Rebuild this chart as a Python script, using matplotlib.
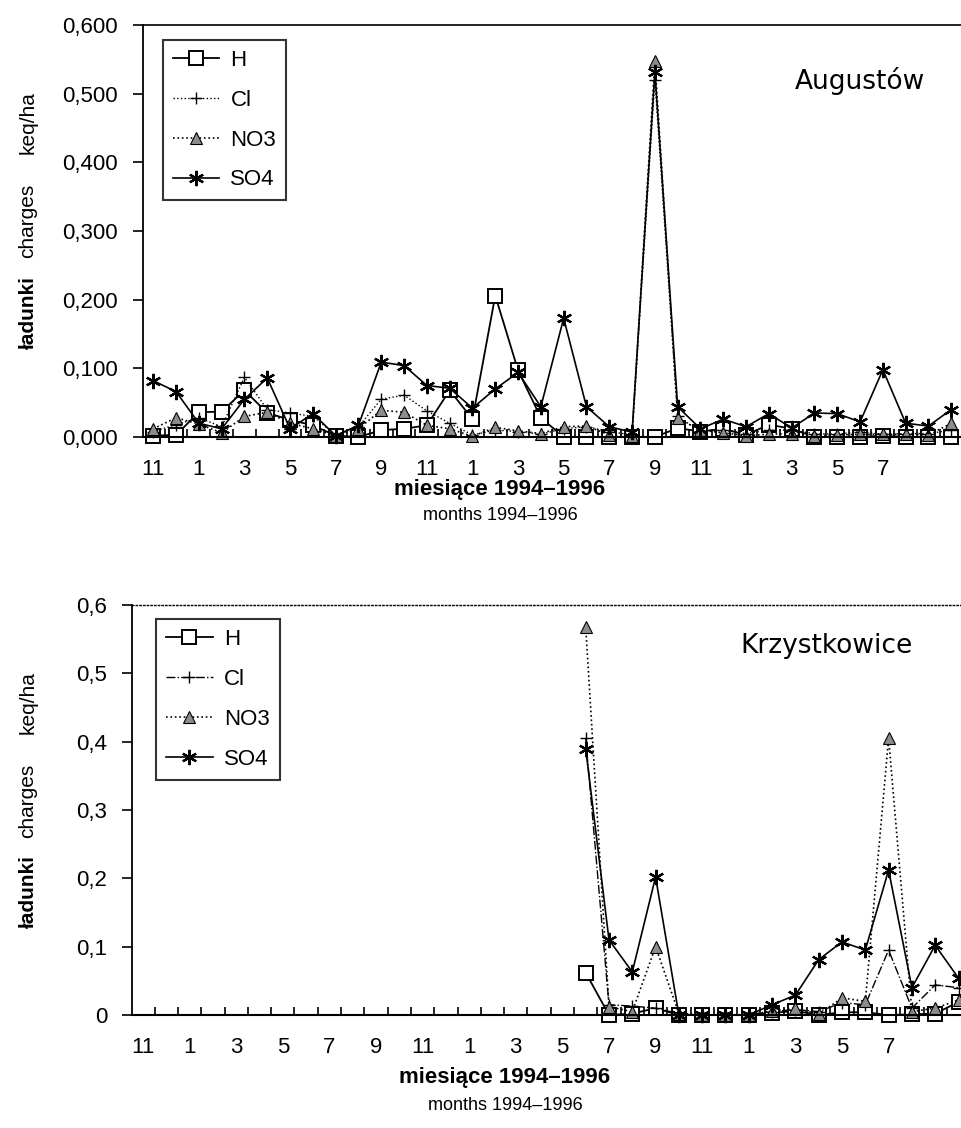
import numpy as np
import matplotlib.pyplot as plt
from matplotlib.ticker import FixedLocator, FuncFormatter

plt.rcParams['font.family'] = ['Liberation Sans', 'DejaVu Sans']

# miesiące XI 1994 - X 1997
months = [11, 12, 1, 2, 3, 4, 5, 6, 7, 8, 9, 10,
          11, 12, 1, 2, 3, 4, 5, 6, 7, 8, 9, 10,
          11, 12, 1, 2, 3, 4, 5, 6, 7, 8, 9, 10]

# Augustów, keq/ha
aug_H = [0.002, 0.003, 0.036, 0.037, 0.068, 0.035, 0.025, 0.017, 0.002, 0.000,
         0.010, 0.012, 0.017, 0.068, 0.026, 0.206, 0.097, 0.028, 0.000, 0.000,
         0.000, 0.000, 0.000, 0.013, 0.008, 0.012, 0.003, 0.018, 0.012, 0.000,
         0.000, 0.000, 0.002, 0.000, 0.000, 0.000]
aug_Cl = [0.008, 0.018, 0.028, 0.015, 0.087, 0.040, 0.035, 0.030, 0.003, 0.015,
          0.055, 0.061, 0.038, 0.020, 0.003, 0.010, 0.008, 0.004, 0.012, 0.015,
          0.008, 0.003, 0.520, 0.030, 0.008, 0.010, 0.005, 0.010, 0.010, 0.005,
          0.004, 0.008, 0.004, 0.005, 0.005, 0.010]
aug_NO3 = [0.012, 0.028, 0.019, 0.006, 0.030, 0.036, 0.020, 0.012, 0.002, 0.012,
           0.039, 0.036, 0.017, 0.012, 0.001, 0.014, 0.009, 0.005, 0.015, 0.016,
           0.003, 0.001, 0.548, 0.027, 0.010, 0.006, 0.002, 0.004, 0.005, 0.002,
           0.003, 0.004, 0.004, 0.004, 0.003, 0.020]
aug_SO4 = [0.082, 0.066, 0.020, 0.012, 0.055, 0.086, 0.012, 0.034, 0.002, 0.017,
           0.109, 0.104, 0.075, 0.071, 0.042, 0.070, 0.094, 0.044, 0.173, 0.044,
           0.015, 0.007, 0.532, 0.044, 0.012, 0.026, 0.015, 0.034, 0.013, 0.035,
           0.034, 0.022, 0.098, 0.020, 0.016, 0.040]

# Krzystkowice - pomiary od VI 1996
kr_start = 19
kr_H = [0.062, 0.000, 0.002, 0.010, 0.000, 0.000, 0.000, 0.000, 0.003, 0.006,
        0.000, 0.004, 0.004, 0.000, 0.001, 0.002, 0.019]
kr_Cl = [0.405, 0.015, 0.013, 0.010, 0.002, 0.000, 0.000, 0.000, 0.005, 0.008,
         0.005, 0.018, 0.015, 0.095, 0.010, 0.044, 0.040]
kr_NO3 = [0.568, 0.012, 0.005, 0.100, 0.002, 0.000, 0.000, 0.000, 0.006, 0.010,
          0.001, 0.025, 0.020, 0.405, 0.005, 0.010, 0.022]
kr_SO4 = [0.390, 0.110, 0.063, 0.202, 0.000, 0.000, 0.000, 0.000, 0.015, 0.029,
          0.081, 0.107, 0.095, 0.212, 0.040, 0.102, 0.054]

FS = 16
asterisk = (6, 2, 0)
n_opis = 33  # podpisy osi X do VII 1997


def rysuj(ax, x, H, Cl, NO3, SO4, cl_style):
    kw = dict(color='black', clip_on=False)
    ax.plot(x, H, '-', lw=1.3, marker='s', ms=10, mfc='white', mec='black',
            mew=1.4, label='H', **kw)
    ax.plot(x, Cl, linestyle=cl_style, lw=1.0, marker='+', ms=8, mew=1.0,
            label='Cl', **kw)
    ax.plot(x, NO3, ':', lw=1.2, marker='^', ms=8, mfc='0.55', mec='black',
            mew=0.8, label='NO3', **kw)
    ax.plot(x, SO4, '-', lw=1.2, marker=asterisk, ms=11, mew=1.6,
            label='SO4', **kw)


def os_x(ax, xmin, xmax):
    ax.set_xlim(xmin, xmax)
    ax.xaxis.set_major_locator(FixedLocator(range(0, n_opis, 2)))
    ax.set_xticklabels([str(m) for m in months[:n_opis:2]])
    ax.xaxis.set_minor_locator(FixedLocator(np.arange(0.5, len(months), 1)))
    ax.tick_params(axis='x', which='major', length=0, pad=16, labelsize=FS)
    ax.tick_params(axis='x', which='minor', direction='in', length=6, width=1.2)
    ax.tick_params(axis='y', direction='out', length=7, width=1.2, pad=11,
                   labelsize=FS)
    ax.spines['right'].set_visible(False)
    ax.spines['left'].set_linewidth(1.3)
    ax.spines['bottom'].set_linewidth(1.5)


def legenda(ax, kotwica):
    leg = ax.legend(loc='upper left', bbox_to_anchor=kotwica, borderaxespad=0,
                    fontsize=FS, numpoints=1, handlelength=2.1,
                    handletextpad=0.5, labelspacing=0.85, frameon=True,
                    fancybox=False, edgecolor='black', borderpad=0.45)
    leg.get_frame().set_linewidth(1.5)


def podpisy(fig, y_os, yl, xl_c):
    # oś Y: ładunki charges keq/ha
    fig.text(0.029, yl[0], 'ładunki', rotation=90, ha='center', va='center',
             fontsize=15, fontweight='bold')
    fig.text(0.029, yl[1], 'charges', rotation=90, ha='center', va='center',
             fontsize=15)
    fig.text(0.029, yl[2], 'keq/ha', rotation=90, ha='center', va='center',
             fontsize=15)
    fig.text(xl_c, y_os[0], 'miesiące 1994–1996', ha='center', va='center',
             fontsize=16, fontweight='bold')
    fig.text(xl_c, y_os[1], 'months 1994–1996', ha='center', va='center',
             fontsize=13)


W, Hh = 962, 1128
fig = plt.figure(figsize=(W / 100, Hh / 100), dpi=100)

# --- Augustów ---
ax1 = fig.add_axes([143 / W, 1 - 437 / Hh, 1 - 143 / W, (437 - 25) / Hh])
x1 = np.arange(len(aug_H))
rysuj(ax1, x1, aug_H, aug_Cl, aug_NO3, aug_SO4, ':')
ax1.set_ylim(0, 0.6)
ax1.set_yticks(np.arange(0, 0.61, 0.1))
ax1.yaxis.set_major_formatter(FuncFormatter(lambda v, p: f'{v:.3f}'.replace('.', ',')))
os_x(ax1, -0.45, 35.47)
ax1.spines['top'].set_linewidth(1.2)
ax1.text(0.955, 0.865, 'Augustów', transform=ax1.transAxes, ha='right',
         va='center', fontsize=19, family=['Liberation Sans Narrow', 'DejaVu Sans'])
legenda(ax1, (0.024, 0.964))
podpisy(fig, (1 - 490 / Hh, 1 - 516 / Hh),
        (1 - 312 / Hh, 1 - 221 / Hh, 1 - 123 / Hh), 500 / W)

# --- Krzystkowice ---
ax2 = fig.add_axes([132 / W, 1 - 1015 / Hh, 1 - 132 / W, (1015 - 605) / Hh])
x2 = np.arange(kr_start, kr_start + len(kr_H))
rysuj(ax2, x2, kr_H, kr_Cl, kr_NO3, kr_SO4, '-.')
ax2.set_ylim(0, 0.6)
ax2.set_yticks(np.arange(0, 0.61, 0.1))
ax2.yaxis.set_major_formatter(FuncFormatter(
    lambda v, p: '0' if abs(v) < 1e-9 else f'{v:.1f}'.replace('.', ',')))
os_x(ax2, -0.47, 35.15)
ax2.spines['top'].set_linestyle(':')
ax2.spines['top'].set_linewidth(1.0)
ax2.text(0.94, 0.90, 'Krzystkowice', transform=ax2.transAxes, ha='right',
         va='center', fontsize=19, family=['Liberation Sans Narrow', 'DejaVu Sans'])
legenda(ax2, (0.029, 0.966))
podpisy(fig, (1 - 1077 / Hh, 1 - 1105 / Hh),
        (1 - 892 / Hh, 1 - 801 / Hh, 1 - 703 / Hh), 505 / W)

fig.savefig('out.png', dpi=100)
